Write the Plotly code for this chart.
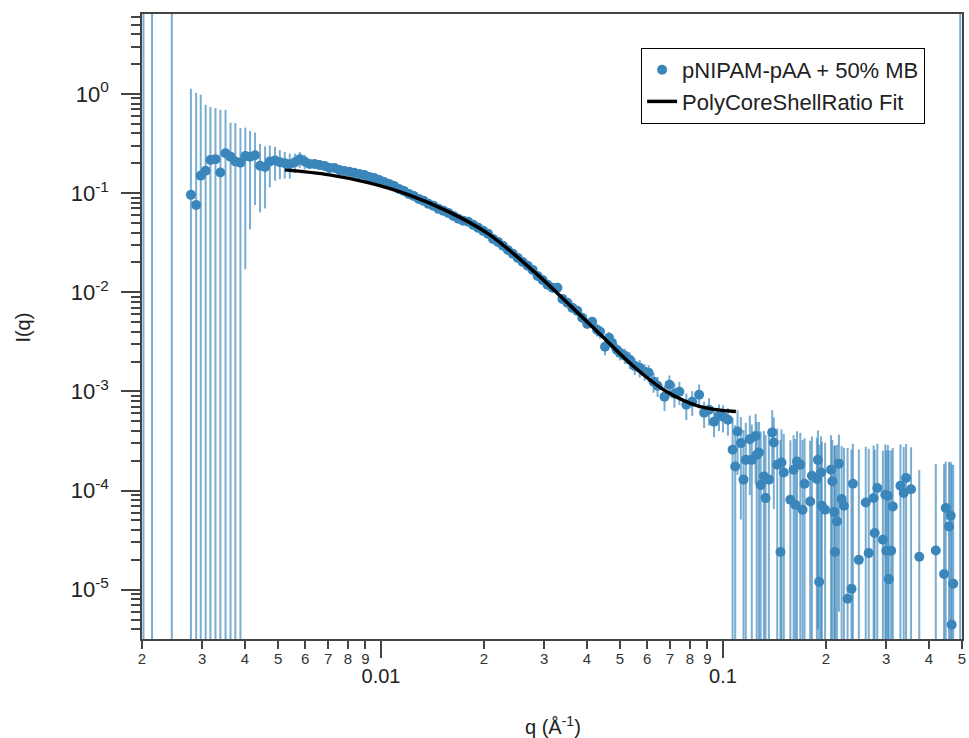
import math
import plotly.graph_objects as go

# ---------------- data ----------------
# points whose markers are off-scale, only their error bars show
q_off = [0.00202, 0.00214, 0.002445, 0.494]
I_off = [1e-7, 1e-7, 1e-7, 1e-7]
err_off = [100.0, 100.0, 100.0, 100.0]

# low-q region
q_low = [0.00278, 0.00288, 0.00297, 0.00307, 0.00317, 0.00328, 0.00339, 0.00351,
         0.00363, 0.00375, 0.00388, 0.00401, 0.00414, 0.00428, 0.00443, 0.00458,
         0.00473, 0.00490, 0.00506, 0.00523, 0.00541, 0.00560, 0.00579, 0.00598]
I_low = [0.096, 0.076, 0.150, 0.168, 0.216, 0.220, 0.161, 0.252,
         0.233, 0.208, 0.203, 0.237, 0.233, 0.241, 0.189, 0.183,
         0.208, 0.213, 0.205, 0.200, 0.195, 0.205, 0.220, 0.208]
err_low = [1.03, 0.95, 0.83, 0.61, 0.52, 0.50, 0.53, 0.44,
           0.28, 0.30, 0.25, 0.22, 0.19, 0.165, 0.125, 0.113,
           0.094, 0.080, 0.067, 0.060, 0.055, 0.045, 0.040, 0.035]

# middle region
q_mid = [0.00618, 0.00639, 0.00661, 0.00684, 0.00707, 0.00731, 0.00756, 0.00781,
         0.00808, 0.00835, 0.00864, 0.00893, 0.00923, 0.00954, 0.00987, 0.01020,
         0.01055, 0.01091, 0.01128, 0.01166, 0.01206, 0.01246, 0.01289, 0.01332,
         0.01377, 0.01424, 0.01473, 0.01523, 0.01574, 0.01628, 0.01683, 0.01740,
         0.01799, 0.01861, 0.01924, 0.01989, 0.02056, 0.02126, 0.02198, 0.02273,
         0.02350, 0.02429, 0.02512, 0.02597, 0.02685, 0.02776, 0.02871, 0.02968,
         0.03069, 0.03172, 0.03280, 0.03392, 0.03507, 0.03626, 0.03749, 0.03876,
         0.04008, 0.04144, 0.04284, 0.04371, 0.04519, 0.04642, 0.04736, 0.04897,
         0.04996, 0.05164, 0.05340, 0.05521, 0.05708, 0.05902, 0.06061, 0.06267,
         0.06437, 0.06745, 0.06975, 0.07211, 0.07456, 0.07812, 0.08128, 0.08517,
         0.08806, 0.09105, 0.09416, 0.09736, 0.1000, 0.1034]
I_mid = [0.197, 0.197, 0.192, 0.188, 0.179, 0.179, 0.171, 0.167,
         0.164, 0.160, 0.156, 0.1526, 0.1456, 0.1423, 0.1358, 0.1297,
         0.1238, 0.1182, 0.1102, 0.1052, 0.0981, 0.0937, 0.0874, 0.0835,
         0.0779, 0.0743, 0.0693, 0.0662, 0.0631, 0.0589, 0.0550, 0.0525,
         0.0513, 0.0478, 0.0446, 0.0416, 0.0388, 0.0345, 0.0322, 0.0294,
         0.0267, 0.0244, 0.0222, 0.0202, 0.0185, 0.0168, 0.0146, 0.0133,
         0.0119, 0.0111, 0.0111, 0.00857, 0.00782, 0.00696, 0.00649, 0.00552,
         0.00480, 0.00503, 0.00418, 0.00399, 0.00282, 0.00347, 0.00309, 0.00262,
         0.00245, 0.00229, 0.00208, 0.00181, 0.00173, 0.00158, 0.00154, 0.00125,
         0.00114, 0.000883, 0.001167, 0.000946, 0.000991, 0.000733, 0.000786, 0.000924,
         0.000608, 0.000652, 0.000494, 0.000568, 0.000555, 0.000518]
err_mid = [0.020, 0.018, 0.016, 0.014, 0.012, 0.011, 0.010, 0.009,
           0.008, 0.007, 0.006, 0.006, 0.005, 0.005, 0.004, 0.004,
           0.004, 0.003, 0.003, 0.003, 0.003, 0.0025, 0.0025, 0.0022,
           0.002, 0.002, 0.0018, 0.0017, 0.0016, 0.0015, 0.0014, 0.0013,
           0.0013, 0.0012, 0.0011, 0.0010, 0.0010, 0.0010, 0.0010, 0.0009,
           0.0009, 0.0009, 0.0009, 0.0009, 0.0009, 0.0010, 0.0015, 0.0013,
           0.0012, 0.0011, 0.0011, 0.0009, 0.0008, 0.0007, 0.0007, 0.0006,
           0.0005, 0.0005, 0.0006, 0.0006, 0.0005, 0.0005, 0.0005, 0.0004,
           0.0004, 0.0004, 0.0004, 0.00035, 0.00035, 0.0003, 0.0003, 0.00028,
           0.00026, 0.00025, 0.00028, 0.00026, 0.00026, 0.00022, 0.00022, 0.00025,
           0.00018, 0.0002, 0.00015, 0.00017, 0.00017, 0.00016]

# high-q region
q_high = [0.1067, 0.1086, 0.1103, 0.1128, 0.1148, 0.1166, 0.1198, 0.1214,
          0.1246, 0.1255, 0.1274, 0.1289, 0.1317, 0.1332, 0.1362, 0.1393,
          0.1408, 0.1441, 0.1473, 0.1483, 0.1506, 0.1574, 0.1609, 0.1627,
          0.1646, 0.1683, 0.1709, 0.1732, 0.1799, 0.1820, 0.1882, 0.1895,
          0.1911, 0.1936, 0.1945, 0.1989, 0.2070, 0.2088, 0.2116, 0.2126,
          0.2154, 0.2183, 0.2223, 0.2258, 0.2314, 0.2376, 0.2398, 0.2496,
          0.2615, 0.2668, 0.2758, 0.2777, 0.2827, 0.2935, 0.2983, 0.3003,
          0.3034, 0.3055, 0.3104, 0.3137, 0.3303, 0.3377, 0.3431, 0.3548,
          0.3750, 0.4191, 0.4431, 0.4481, 0.4581, 0.4633, 0.4664, 0.4714]
I_high = [2.58e-4, 1.75e-4, 3.94e-4, 3.01e-4, 1.29e-4, 2.04e-4, 3.30e-4, 2.04e-4,
          3.56e-4, 2.30e-4, 2.42e-4, 1.14e-4, 1.39e-4, 8.39e-5, 1.29e-4, 3.86e-4,
          3.05e-4, 1.82e-4, 2.40e-5, 1.92e-4, 1.52e-4, 8.07e-5, 1.62e-4, 7.19e-5,
          1.96e-4, 1.82e-4, 6.40e-5, 1.17e-4, 7.76e-5, 1.41e-4, 1.31e-4, 2.04e-4,
          1.20e-5, 1.52e-4, 7.03e-5, 6.40e-5, 1.62e-4, 1.24e-4, 6.07e-5, 2.40e-5,
          4.89e-5, 1.86e-4, 8.20e-5, 7.03e-5, 8.11e-6, 1.02e-5, 1.17e-4, 2.00e-5,
          7.59e-5, 2.34e-5, 8.40e-5, 3.73e-5, 1.06e-4, 3.19e-5, 9.08e-5, 2.47e-5,
          8.87e-5, 1.28e-5, 2.47e-5, 6.92e-5, 1.12e-4, 9.44e-5, 1.34e-4, 1.03e-4,
          2.15e-5, 2.49e-5, 1.44e-5, 6.67e-5, 4.35e-5, 5.57e-5, 4.44e-6, 1.15e-5]
err_high = [2.8e-4, 2.8e-4, 2.5e-4, 2.5e-4, 2.8e-4, 2.8e-4, 2.4e-4, 2.6e-4,
            2.4e-4, 2.6e-4, 2.5e-4, 2.8e-4, 2.6e-4, 2.8e-4, 2.6e-4, 2.6e-4,
            2.4e-4, 2.4e-4, 3.0e-4, 2.2e-4, 2.2e-4, 2.4e-4, 2.0e-4, 2.6e-4,
            2.0e-4, 2.0e-4, 2.6e-4, 2.2e-4, 2.4e-4, 2.1e-4, 2.1e-4, 2.0e-4,
            2.8e-4, 2.0e-4, 2.4e-4, 2.4e-4, 2.0e-4, 2.0e-4, 2.2e-4, 2.6e-4,
            2.4e-4, 1.8e-4, 2.0e-4, 2.0e-4, 2.6e-4, 2.5e-4, 1.8e-4, 2.4e-4,
            2.0e-4, 2.4e-4, 2.0e-4, 2.2e-4, 1.9e-4, 2.2e-4, 2.0e-4, 2.3e-4,
            2.0e-4, 2.4e-4, 2.3e-4, 2.0e-4, 1.8e-4, 1.8e-4, 1.6e-4, 1.7e-4,
            1.4e-4, 1.6e-4, 1.7e-4, 1.3e-4, 1.5e-4, 1.4e-4, 1.8e-4, 1.7e-4]

# fit curve
q_fit = [0.005233, 0.007067, 0.009231, 0.01206, 0.01574, 0.02056, 0.02814,
         0.03507, 0.04371, 0.05484, 0.06836, 0.08518, 0.1091]
I_fit = [0.1714, 0.1526, 0.1267, 0.0959, 0.0650, 0.0390, 0.01594,
         0.00782, 0.003772, 0.001782, 0.000995, 0.000706, 0.000626]

# tick labels
x_minor_vals = [0.002, 0.003, 0.004, 0.005, 0.006, 0.007, 0.008, 0.009,
                0.02, 0.03, 0.04, 0.05, 0.06, 0.07, 0.08, 0.09,
                0.2, 0.3, 0.4, 0.5]
x_minor_text = ["2", "3", "4", "5", "6", "7", "8", "9",
                "2", "3", "4", "5", "6", "7", "8", "9",
                "2", "3", "4", "5"]
x_major_vals = [0.01, 0.1]
x_major_text = ["0.01", "0.1"]
y_major_vals = [1e-5, 1e-4, 1e-3, 1e-2, 1e-1, 1]
y_major_text = ["10<sup>-5</sup>", "10<sup>-4</sup>", "10<sup>-3</sup>",
                "10<sup>-2</sup>", "10<sup>-1</sup>", "10<sup>0</sup>"]
y_minor_vals = [4e-6, 5e-6, 6e-6, 7e-6, 8e-6, 9e-6,
                2e-5, 3e-5, 4e-5, 5e-5, 6e-5, 7e-5, 8e-5, 9e-5,
                2e-4, 3e-4, 4e-4, 5e-4, 6e-4, 7e-4, 8e-4, 9e-4,
                2e-3, 3e-3, 4e-3, 5e-3, 6e-3, 7e-3, 8e-3, 9e-3,
                0.02, 0.03, 0.04, 0.05, 0.06, 0.07, 0.08, 0.09,
                0.2, 0.3, 0.4, 0.5, 0.6, 0.7, 0.8, 0.9,
                2, 3, 4, 5, 6]

# ---------------- figure ----------------
q_data = q_low + q_mid + q_high
I_data = I_low + I_mid + I_high
err_data = err_low + err_mid + err_high

blue = "#3a86bb"
bar_col = "rgba(58,134,187,0.68)"
axis_col = "#444444"
FONT = "Liberation Sans, Arial, sans-serif"

x_range = [math.log10(0.002), math.log10(0.5)]
y_range = [-5.497, 0.806]

fig = go.Figure()
fig.add_trace(go.Scatter(
    x=q_off, y=I_off, mode="markers", showlegend=False, hoverinfo="skip",
    marker=dict(color=blue, size=10),
    error_y=dict(type="data", array=err_off, visible=True, color=bar_col,
                 thickness=2, width=0)))
fig.add_trace(go.Scatter(
    x=q_data, y=I_data, mode="markers", name="pNIPAM-pAA + 50% MB",
    marker=dict(color=blue, size=10),
    error_y=dict(type="data", array=err_data, visible=True, color=bar_col,
                 thickness=2, width=0)))
fig.add_trace(go.Scatter(
    x=q_fit, y=I_fit, mode="lines", name="PolyCoreShellRatio Fit",
    xaxis="x2", yaxis="y",
    line=dict(color="black", width=3.5, shape="spline")))

fig.update_layout(
    width=969, height=738,
    margin=dict(l=142, r=3, t=14, b=99),
    paper_bgcolor="white", plot_bgcolor="white",
    font=dict(family=FONT, color="#222222"),
    xaxis=dict(type="log", range=x_range, tickmode="array",
               tickvals=x_minor_vals, ticktext=x_minor_text,
               ticks="outside", ticklen=8, tickwidth=1.5, tickcolor=axis_col,
               tickfont=dict(size=15, color="#333333"), ticklabelstandoff=-3,
               showline=True, linecolor=axis_col, linewidth=1.5, mirror=True,
               showgrid=False, zeroline=False),
    xaxis2=dict(type="log", range=x_range, overlaying="x", side="bottom",
                tickmode="array", tickvals=x_major_vals, ticktext=x_major_text,
                ticks="outside", ticklen=18, tickwidth=1.5, tickcolor=axis_col,
                tickfont=dict(size=20, color="#222222"), ticklabelstandoff=1,
                showline=False, showgrid=False, zeroline=False),
    yaxis=dict(type="log", range=y_range, tickmode="array",
               tickvals=y_major_vals, ticktext=y_major_text,
               ticks="outside", ticklen=19, tickwidth=1.5, tickcolor=axis_col,
               tickfont=dict(size=22, color="#222222"), ticklabelstandoff=8,
               minor=dict(tickmode="array", tickvals=y_minor_vals, ticks="outside",
                          ticklen=9, tickwidth=1.5, tickcolor=axis_col),
               showline=True, linecolor=axis_col, linewidth=1.5, mirror=True,
               showgrid=False, zeroline=False),
    legend=dict(x=0.955, y=0.9456, xanchor="right", yanchor="top",
                bordercolor="black", borderwidth=1, bgcolor="white",
                font=dict(size=22, color="#222222"), tracegroupgap=0,
                itemwidth=30),
    annotations=[
        dict(text="I(q)", x=-0.1456, y=0.4976, xref="paper", yref="paper",
             textangle=-90, showarrow=False, xanchor="center", yanchor="middle",
             font=dict(size=20, color="#222222")),
        dict(text="q (Å<sup>-1</sup>)", x=0.501, y=-0.1376, xref="paper", yref="paper",
             showarrow=False, xanchor="center", yanchor="middle",
             font=dict(size=20, color="#222222")),
    ],
)

fig.write_html("out.html")
